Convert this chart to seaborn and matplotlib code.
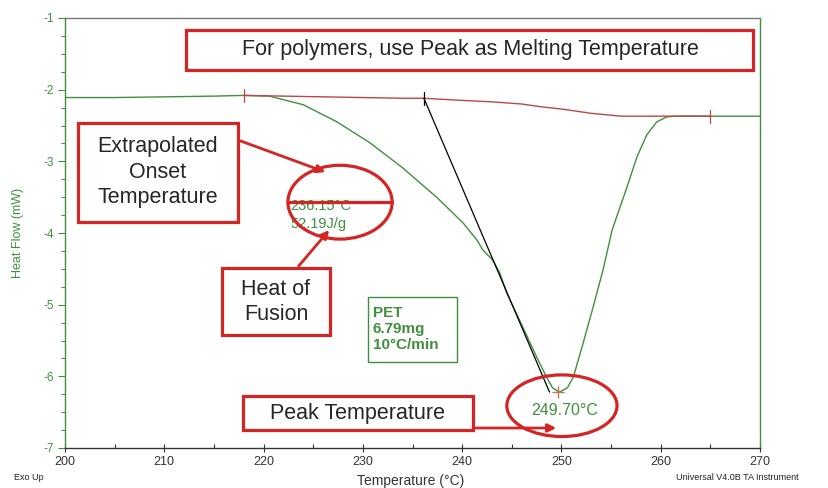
import numpy as np
import pandas as pd
import seaborn as sns
import matplotlib.pyplot as plt
from matplotlib.patches import Rectangle, Ellipse, FancyArrowPatch
from matplotlib.ticker import MultipleLocator

# ---- data ----
curve_temp = [200, 205, 210, 215, 218, 220.6, 224.0, 227.4, 230.7, 234.0, 237.5, 240.1,
              241.5, 242.1, 243.1, 243.8, 244.5, 246.1, 247.5, 248.5, 249.1, 249.8,
              250.6, 251.2, 252.2, 253.2, 254.2, 255.1, 256.6, 257.6, 258.6, 259.6,
              260.6, 261.4, 265, 270]
curve_flow = [-2.11, -2.11, -2.10, -2.09, -2.08, -2.09, -2.21, -2.45, -2.74, -3.09, -3.51, -3.86,
              -4.10, -4.24, -4.38, -4.56, -4.84, -5.31, -5.73, -6.01, -6.16, -6.22,
              -6.16, -6.01, -5.53, -5.03, -4.51, -3.96, -3.36, -2.94, -2.63, -2.45,
              -2.38, -2.37, -2.37, -2.37]
base_temp = [218, 222, 226, 230, 234, 236.15, 240, 243, 246, 248, 250, 253, 256, 261.4, 265]
base_flow = [-2.08, -2.09, -2.10, -2.11, -2.12, -2.12, -2.15, -2.17, -2.20, -2.24, -2.27, -2.33, -2.37, -2.37, -2.37]
tangent_temp = [236.15, 248.8]
tangent_flow = [-2.12, -6.22]
onset_temp = 236.15
peak_temp = 249.70
peak_flow = -6.22
heat_fusion = 52.19
x_ticks = [200, 210, 220, 230, 240, 250, 260, 270]
y_ticks = [-7, -6, -5, -4, -3, -2, -1]

sns.set_style("white")
plt.rcParams['font.family'] = ['Liberation Sans', 'DejaVu Sans']

W, H = 829, 488
fig = plt.figure(figsize=(W / 100, H / 100), dpi=100)
ax = fig.add_axes([65 / W, 1 - 448 / H, (760 - 65) / W, (448 - 18) / H])

GREEN = '#3f8f3f'
RED = '#d42424'
BASE = '#b84848'

df_curve = pd.DataFrame({'T': curve_temp, 'HF': curve_flow})
df_base = pd.DataFrame({'T': base_temp, 'HF': base_flow})
df_tan = pd.DataFrame({'T': tangent_temp, 'HF': tangent_flow})
sns.lineplot(data=df_curve, x='T', y='HF', ax=ax, color=GREEN, lw=1.0, sort=False)
sns.lineplot(data=df_base, x='T', y='HF', ax=ax, color=BASE, lw=1.0, sort=False)
sns.lineplot(data=df_tan, x='T', y='HF', ax=ax, color='black', lw=0.9, sort=False)

# small tick marks on baseline ends / onset / peak
for t, c in [(base_temp[0], BASE), (base_temp[-1], BASE), (onset_temp, 'black')]:
    yv = np.interp(t, base_temp, base_flow)
    ax.plot([t, t], [yv - 0.09, yv + 0.09], color=c, lw=0.9)
ax.plot([peak_temp], [peak_flow], marker='+', ms=9, color='#b87858', mew=1.0)

ax.set_xlim(200, 270)
ax.set_ylim(-7, -1)
ax.set_xticks(x_ticks)
ax.set_yticks(y_ticks)
ax.xaxis.set_minor_locator(MultipleLocator(5))
ax.yaxis.set_minor_locator(MultipleLocator(0.25))
ax.tick_params(axis='y', which='major', direction='out', length=5, width=0.8, color=GREEN,
               labelcolor=GREEN, labelsize=8.5, pad=3, left=True)
ax.tick_params(axis='y', which='minor', direction='out', length=3, width=0.8, color=GREEN, left=True)
ax.tick_params(axis='x', which='major', direction='inout', length=6, width=0.8, color='#333333',
               labelcolor='#333333', labelsize=9, pad=3, bottom=True)
ax.tick_params(axis='x', which='minor', direction='in', length=3, width=0.8, color='#333333', bottom=True)
ax.set_yticklabels([str(v) for v in y_ticks])
ax.set_xticklabels([str(v) for v in x_ticks])
ax.set_xlabel('')
ax.set_ylabel('')
for s, c in [('left', GREEN), ('right', GREEN), ('top', '#777777'), ('bottom', '#333333')]:
    ax.spines[s].set_visible(True)
    ax.spines[s].set_color(c)
    ax.spines[s].set_linewidth(1.0)

fig.text(18 / W, 1 - 233 / H, 'Heat Flow (mW)', rotation=90, color=GREEN, fontsize=9,
         ha='center', va='center')
fig.text(411 / W, 1 - 481 / H, 'Temperature (°C)', color='#333333', fontsize=10,
         ha='center', va='center')
fig.text(14 / W, 1 - 478 / H, 'Exo Up', color='#222222', fontsize=6.5, ha='left', va='center')
fig.text(676 / W, 1 - 478 / H, 'Universal V4.0B TA Instrument', color='#222222', fontsize=6.5,
         ha='left', va='center')


def fx(px):
    return px / W


def fy(py):
    return 1 - py / H


def box(x0, y0, x1, y1, color=RED, lw=2.3):
    fig.add_artist(Rectangle((fx(x0), fy(y1)), (x1 - x0) / W, (y1 - y0) / H,
                             transform=fig.transFigure, fill=True, facecolor='white',
                             edgecolor=color, lw=lw, zorder=5))


def arrow(p0, p1):
    fig.add_artist(FancyArrowPatch((fx(p0[0]), fy(p0[1])), (fx(p1[0]), fy(p1[1])),
                                   transform=fig.transFigure, arrowstyle='-|>',
                                   mutation_scale=12, color=RED, lw=2.0, zorder=6))


# top box
box(186, 30, 753, 70)
fig.text(fx(470), fy(50), 'For polymers, use Peak as Melting Temperature', fontsize=15.5,
         ha='center', va='center', zorder=7)

# onset box
box(78, 123, 238, 222)
fig.text(fx(158), fy(172), 'Extrapolated\nOnset\nTemperature', fontsize=15.5, ha='center',
         va='center', linespacing=1.3, zorder=7)

# heat of fusion box
box(222, 268, 330, 335)
fig.text(fx(276), fy(302), 'Heat of\nFusion', fontsize=15.5, ha='center', va='center',
         linespacing=1.25, zorder=7)

# peak box
box(243, 396, 473, 430)
fig.text(fx(358), fy(413), 'Peak Temperature', fontsize=15.5, ha='center', va='center', zorder=7)

# PET box
box(368, 297, 457, 362, color=GREEN, lw=1.0)
fig.text(fx(373), fy(329), 'PET\n6.79mg\n10°C/min', fontsize=11, color=GREEN, ha='left',
         va='center', linespacing=1.15, zorder=7, fontweight='semibold')

# onset/enthalpy text + ellipse
ax.text(222.7, -3.63, f'{onset_temp:.2f}°C', fontsize=10.5,
        color=GREEN, ha='left', va='center', zorder=4)
ax.text(222.7, -3.88, f'{heat_fusion:.2f}J/g', fontsize=10.5,
        color=GREEN, ha='left', va='center', zorder=4)
ax.add_patch(Ellipse((227.7, -3.57), 10.5, 1.03, fill=False, edgecolor=RED, lw=2.3, zorder=6,
                     clip_on=False))
ax.plot([222.45, 232.95], [-3.57, -3.57], color=RED, lw=2.3, zorder=6)

# peak text + ellipse
ax.text(250.3, -6.47, f'{peak_temp:.2f}°C', fontsize=11.5, color=GREEN, ha='center', va='center',
        zorder=4)
ax.add_patch(Ellipse((250.05, -6.41), 11.1, 0.86, fill=False, edgecolor=RED, lw=2.3, zorder=6,
                     clip_on=False))

arrow((238, 140), (328, 173))
arrow((297, 268), (331, 228))
arrow((473, 428), (559, 428))

fig.savefig('out.png', dpi=100)
